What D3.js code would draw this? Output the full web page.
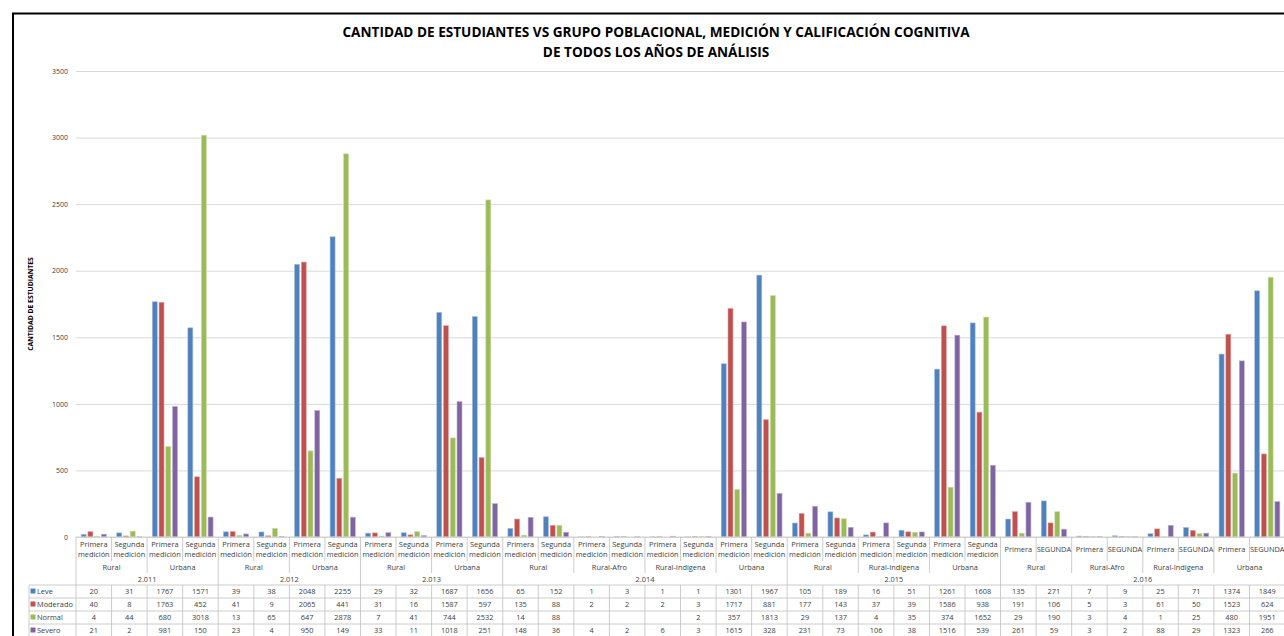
<!DOCTYPE html>
<html>
<head>
<meta charset="utf-8">
<script src="https://cdn.jsdelivr.net/npm/d3@7"></script>
<style>
  body { margin: 0; background: #fff; }
  text { font-family: "Open Sans", sans-serif; }
</style>
</head>
<body>
<svg id="chart" width="1284" height="636"></svg>
<script>
// categorias (año / grupo / medición)
const anio = [
  "2.011","2.011","2.011","2.011",
  "2.012","2.012","2.012","2.012",
  "2.013","2.013","2.013","2.013",
  "2.014","2.014","2.014","2.014","2.014","2.014","2.014","2.014",
  "2.015","2.015","2.015","2.015","2.015","2.015",
  "2.016","2.016","2.016","2.016","2.016","2.016","2.016","2.016"
];
const grupo = [
  "Rural","Rural","Urbana","Urbana",
  "Rural","Rural","Urbana","Urbana",
  "Rural","Rural","Urbana","Urbana",
  "Rural","Rural","Rural-Afro","Rural-Afro","Rural-Indigena","Rural-Indigena","Urbana","Urbana",
  "Rural","Rural","Rural-Indigena","Rural-Indigena","Urbana","Urbana",
  "Rural","Rural","Rural-Afro","Rural-Afro","Rural-Indigena","Rural-Indigena","Urbana","Urbana"
];
const PM = "Primera medición", SM = "Segunda medición";
const medicion = [
  PM,SM,PM,SM, PM,SM,PM,SM, PM,SM,PM,SM,
  PM,SM,PM,SM,PM,SM,PM,SM,
  PM,SM,PM,SM,PM,SM,
  "Primera","SEGUNDA","Primera","SEGUNDA","Primera","SEGUNDA","Primera","SEGUNDA"
];

// series
const seriesNames = ["Leve", "Moderado", "Normal", "Severo"];
const leve =     [20,31,1767,1571, 39,38,2048,2255, 29,32,1687,1656, 65,152,1,3,1,1,1301,1967, 105,189,16,51,1261,1608, 135,271,7,9,25,71,1374,1849];
const moderado = [40,8,1763,452, 41,9,2065,441, 31,16,1587,597, 135,88,2,2,2,3,1717,881, 177,143,37,39,1586,938, 191,106,5,3,61,50,1523,624];
const normal =   [4,44,680,3018, 13,65,647,2878, 7,41,744,2532, 14,88,null,null,null,2,357,1813, 29,137,4,35,374,1652, 29,190,3,4,1,25,480,1951];
const severo =   [21,2,981,150, 23,4,950,149, 33,11,1018,251, 148,36,4,2,6,3,1615,328, 231,73,106,38,1516,539, 261,59,3,2,88,29,1323,266];
const seriesValues = [leve, moderado, normal, severo];
const colors = ["#4F81BD", "#C0504D", "#9BBB59", "#8064A2"];
const strokes = ["#A7C0DE", "#E0A8A6", "#CDDDAC", "#C0B2D1"];
const yTicks = [0, 500, 1000, 1500, 2000, 2500, 3000, 3500];

const svg = d3.select("#chart");
const idx = d3.range(anio.length);

const x = d3.scaleBand().domain(idx).range([76, 76 + 34 * 35.56]).padding(0);
const xs = d3.scaleBand().domain(d3.range(4)).range([0, x.bandwidth()])
  .paddingInner(0.26).paddingOuter(0.765);
const y = d3.scaleLinear().domain([0, 3500]).range([537, 71]);

// outer frame
svg.append("path").attr("d", "M13,640 L13,13.5 L1290,13.5")
  .attr("fill", "none").attr("stroke", "#000").attr("stroke-width", 2);

// title
const title = svg.append("text").attr("x", 656).attr("text-anchor", "middle")
  .attr("font-weight", "bold").attr("font-size", 13.6).attr("fill", "#000");
title.append("tspan").attr("x", 656).attr("y", 37)
  .text("CANTIDAD DE ESTUDIANTES VS GRUPO POBLACIONAL, MEDICIÓN Y CALIFICACIÓN COGNITIVA");
title.append("tspan").attr("x", 656).attr("y", 57)
  .text("DE TODOS LOS AÑOS DE ANÁLISIS");

// gridlines + y axis
const yAxis = d3.axisLeft(y).tickValues(yTicks).tickFormat(d3.format("d"))
  .tickSize(-(1284 - 76)).tickPadding(8);
const ga = svg.append("g").attr("transform", "translate(76,0)").call(yAxis);
ga.select(".domain").remove();
ga.selectAll(".tick line").attr("stroke", "#D9D9D9").attr("stroke-width", 1);
ga.selectAll(".tick text").attr("font-size", 7).attr("fill", "#404040")
  .attr("font-family", "Open Sans, sans-serif");

svg.append("text")
  .attr("transform", "translate(33,304) rotate(-90)")
  .attr("text-anchor", "middle").attr("font-weight", "bold").attr("font-size", 6.8)
  .attr("fill", "#000").text("CANTIDAD DE ESTUDIANTES");

// bars
seriesValues.forEach((vals, s) => {
  svg.append("g").selectAll("rect")
    .data(idx.filter(i => vals[i] != null))
    .join("rect")
    .attr("x", i => x(i) + xs(s))
    .attr("width", xs.bandwidth())
    .attr("y", i => y(vals[i]))
    .attr("height", i => y(0) - y(vals[i]))
    .attr("fill", colors[s])
    .attr("stroke", strokes[s])
    .attr("stroke-width", 0.6);
});

// data table
const tb = { top: 537, r1: 561, r2: 573, r3: 585, row: 13 };
const lineColor = "#BFBFBF";
const tg = svg.append("g");

tg.append("line").attr("x1", 76).attr("x2", 1284).attr("y1", tb.top).attr("y2", tb.top)
  .attr("stroke", "#D0D0D0");

for (let r = 0; r < 4; r++) {
  const yy = tb.r3 + r * tb.row;
  tg.append("line").attr("x1", 29).attr("x2", 1284).attr("y1", yy).attr("y2", yy)
    .attr("stroke", lineColor).attr("stroke-width", 0.8);
}
tg.append("line").attr("x1", 29).attr("x2", 29).attr("y1", tb.r3).attr("y2", 640)
  .attr("stroke", lineColor).attr("stroke-width", 0.8);

// vertical dividers
d3.range(anio.length + 1).forEach(i => {
  const xx = i < anio.length ? x(i) : x(anio.length - 1) + x.bandwidth();
  const yearB = i === 0 || i === anio.length || anio[i] !== anio[i - 1];
  const groupB = yearB || grupo[i] !== grupo[i - 1];
  const segs = yearB ? [[tb.top, 640]]
    : groupB ? [[tb.top, tb.r2], [tb.r3, 640]]
    : [[tb.top, tb.r1], [tb.r3, 640]];
  segs.forEach(([a, b]) => tg.append("line").attr("x1", xx).attr("x2", xx)
    .attr("y1", a).attr("y2", b).attr("stroke", lineColor).attr("stroke-width", 0.8));
});

const fs = 7.4, fc = "#404040";
// row 1: medición
idx.forEach(i => {
  const words = medicion[i].split(" ");
  const cx = x(i) + x.bandwidth() / 2;
  const t = tg.append("text").attr("text-anchor", "middle").attr("font-size", fs).attr("fill", fc);
  if (words.length === 2) {
    t.append("tspan").attr("x", cx).attr("y", 547).text(words[0]);
    t.append("tspan").attr("x", cx).attr("y", 557).text(words[1]);
  } else {
    t.attr("x", cx).attr("y", 552).text(words[0]);
  }
});

// spans for grupo and año
function spans(arr, breaker) {
  const out = [];
  idx.forEach(i => {
    if (i === 0 || arr[i] !== arr[i - 1] || (breaker && breaker[i] !== breaker[i - 1])) out.push({ label: arr[i], a: i, b: i });
    else out[out.length - 1].b = i;
  });
  return out;
}
spans(grupo, anio).forEach(s => {
  tg.append("text").attr("x", (x(s.a) + x(s.b) + x.bandwidth()) / 2).attr("y", 569.5)
    .attr("text-anchor", "middle").attr("font-size", fs).attr("fill", fc).text(s.label);
});
spans(anio).forEach(s => {
  tg.append("text").attr("x", (x(s.a) + x(s.b) + x.bandwidth()) / 2).attr("y", 581.5)
    .attr("text-anchor", "middle").attr("font-size", fs).attr("fill", fc).text(s.label);
});

// data rows
seriesValues.forEach((vals, s) => {
  const cy = tb.r3 + s * tb.row + tb.row / 2;
  tg.append("rect").attr("x", 30.5).attr("y", cy - 3).attr("width", 5).attr("height", 5)
    .attr("fill", colors[s]);
  tg.append("text").attr("x", 37).attr("y", cy + 2.6).attr("font-size", fs).attr("fill", fc)
    .text(seriesNames[s]);
  idx.forEach(i => {
    if (vals[i] == null) return;
    tg.append("text").attr("x", x(i) + x.bandwidth() / 2).attr("y", cy + 2.6)
      .attr("text-anchor", "middle").attr("font-size", fs).attr("fill", fc).text(vals[i]);
  });
});
</script>
</body>
</html>
